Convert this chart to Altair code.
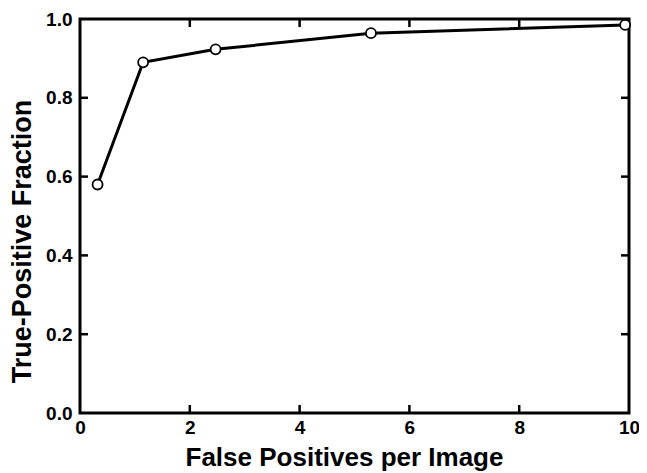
import altair as alt
import pandas as pd

fp_per_image = [0.32, 1.15, 2.47, 5.3, 9.93]
tp_fraction = [0.58, 0.89, 0.923, 0.964, 0.985]
x_ticks = [0, 2, 4, 6, 8, 10]
y_ticks = [0.0, 0.2, 0.4, 0.6, 0.8, 1.0]

df = pd.DataFrame({"fp": fp_per_image, "tp": tp_fraction})
xt = pd.DataFrame({"v": x_ticks[1:-1]})
yt = pd.DataFrame({"v": y_ticks[1:-1]})

W, H = 549, 394
FONT = "Liberation Sans"
TL = 8

xs = alt.Scale(domain=[0, 10], nice=False, zero=False)
ys = alt.Scale(domain=[0, 1], nice=False, zero=False)

base = alt.Chart(df)
line = base.mark_line(color="black", strokeWidth=3).encode(
    x=alt.X("fp:Q", scale=xs, title="False Positives per Image",
            axis=alt.Axis(values=x_ticks, ticks=False, grid=False, domain=False,
                          labelFlush=False,
                          labelFont=FONT, labelFontSize=19, labelFontWeight="bold",
                          labelColor="black", labelPadding=5,
                          titleFont=FONT, titleFontSize=26, titleFontWeight="bold",
                          titleColor="black", titleX=264, titleY=52,
                          titleBaseline="alphabetic", titleAlign="center")),
    y=alt.Y("tp:Q", scale=ys, title="True-Positive Fraction",
            axis=alt.Axis(values=y_ticks, format=".1f", ticks=False, grid=False, domain=False,
                          labelFlush=False,
                          labelFont=FONT, labelFontSize=19, labelFontWeight="bold",
                          labelColor="black", labelPadding=8,
                          titleFont=FONT, titleFontSize=27, titleFontWeight="bold",
                          titleColor="black", titleX=-50, titleY=222,
                          titleBaseline="alphabetic", titleAlign="center")),
)
pts = base.mark_point(shape="circle", filled=True, fill="white", stroke="black",
                      strokeWidth=1.8, size=100, opacity=1).encode(
    x=alt.X("fp:Q", scale=xs), y=alt.Y("tp:Q", scale=ys))

tick_style = dict(color="black", strokeWidth=2.5)
xb = alt.Chart(xt).mark_rule(**tick_style).encode(
    x=alt.X("v:Q", scale=xs), y=alt.value(H), y2=alt.value(H - TL))
xtop = alt.Chart(xt).mark_rule(**tick_style).encode(
    x=alt.X("v:Q", scale=xs), y=alt.value(0), y2=alt.value(TL))
yl = alt.Chart(yt).mark_rule(**tick_style).encode(
    y=alt.Y("v:Q", scale=ys), x=alt.value(0), x2=alt.value(TL))
yr = alt.Chart(yt).mark_rule(**tick_style).encode(
    y=alt.Y("v:Q", scale=ys), x=alt.value(W), x2=alt.value(W - TL))

chart = alt.layer(xb, xtop, yl, yr, line, pts).properties(
    width=W, height=H, autosize="none", background="white",
    padding={"left": 72, "top": 11, "right": 10, "bottom": 59},
).configure_view(stroke="black", strokeWidth=3, strokeOpacity=1)

chart.save("out.html", embed_options={"renderer": "svg", "actions": False})
